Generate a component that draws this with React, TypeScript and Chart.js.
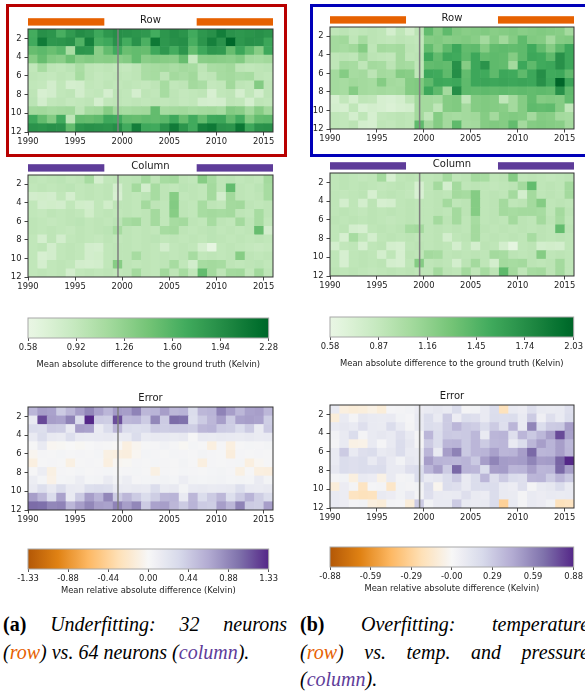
import React, { useEffect, useRef } from "react";
import { Chart, registerables } from "chart.js";

Chart.register(...registerables);

const FONT = '"DejaVu Sans", Verdana, sans-serif';
const ORANGE = "#e66101";
const PURPLE = "#5e3c99";

// ---------------- categories / ticks ----------------
const years = [1990, 1991, 1992, 1993, 1994, 1995, 1996, 1997, 1998, 1999, 2000, 2001, 2002,
  2003, 2004, 2005, 2006, 2007, 2008, 2009, 2010, 2011, 2012, 2013, 2014, 2015];
const yearExtent = [1990, 2016];
const monthExtent = [1, 12];
const yearTicks = [1990, 1995, 2000, 2005, 2010, 2015];
const monthTicks = [2, 4, 6, 8, 10, 12];
const splitYear = 1999.55;
const trainSpans = [[1990, 1998.1], [2007.9, 2016]];

const greenTicksA = [0.58, 0.92, 1.26, 1.60, 1.94, 2.28];
const greenLabelsA = ["0.58", "0.92", "1.26", "1.60", "1.94", "2.28"];
const greenTicksB = [0.58, 0.87, 1.16, 1.45, 1.74, 2.03];
const greenLabelsB = ["0.58", "0.87", "1.16", "1.45", "1.74", "2.03"];
const errTicksA = [-1.33, -0.887, -0.443, 0, 0.443, 0.887, 1.33];
const errLabelsA = ["-1.33", "-0.88", "-0.44", "0.00", "0.44", "0.88", "1.33"];
const errTicksB = [-0.88, -0.587, -0.293, 0, 0.293, 0.587, 0.88];
const errLabelsB = ["-0.88", "-0.59", "-0.29", "-0.00", "0.29", "0.59", "0.88"];

// ---------------- data: rows = months 1..12, columns = years ----------------
const rowUnderfit = [
  [1.68,1.92,1.88,1.66,1.84,1.95,1.90,1.72,1.86,1.93, 1.91,1.88,1.85,1.69,1.87,1.94,1.89,1.70,1.86,1.92,2.08,1.90,1.86,1.89,1.92,1.88],
  [1.70,2.10,1.86,1.88,1.92,1.62,2.06,1.66,1.72,1.90, 1.68,1.90,1.64,2.12,1.86,1.92,1.94,1.66,1.88,2.06,1.90,2.26,1.86,1.92,1.90,1.74],
  [1.50,1.55,1.48,1.56,1.10,1.88,1.86,1.30,1.52,1.70, 1.48,1.52,1.50,1.72,1.86,1.68,1.88,1.52,1.72,1.86,1.84,1.50,1.74,1.54,1.32,1.72],
  [1.32,1.50,1.34,1.30,1.46,1.30,1.34,1.30,1.32,1.30, 1.34,1.52,1.30,1.34,1.32,1.30,1.50,0.90,1.30,1.32,1.30,1.28,1.34,1.14,1.12,1.16],
  [0.94,1.12,0.96,0.94,0.98,1.10,0.96,0.94,0.96,0.94, 0.92,0.96,1.10,1.12,1.14,1.10,1.14,1.12,0.96,1.10,1.12,1.16,0.96,0.94,0.96,0.98],
  [0.96,0.94,0.92,0.96,0.94,1.12,0.96,0.92,0.94,0.96, 0.94,0.96,1.10,1.12,0.96,1.14,1.10,1.16,0.94,0.96,1.12,1.14,1.10,1.12,0.96,0.94],
  [0.94,0.92,0.80,0.94,0.78,0.80,0.94,0.92,0.96,0.94, 0.96,0.94,0.92,0.96,1.12,0.94,0.96,1.14,1.10,0.92,0.94,1.16,0.96,0.94,1.34,0.96],
  [0.96,0.76,0.80,0.94,0.96,0.80,0.92,0.94,0.78,0.96, 0.94,0.78,0.96,0.94,1.12,0.96,0.92,0.94,0.96,0.76,0.94,0.96,0.78,0.94,0.80,0.96],
  [0.98,0.80,0.94,0.96,0.92,0.94,0.96,0.78,0.94,0.96, 0.94,0.96,0.94,0.96,0.94,0.96,0.92,0.94,0.80,0.78,0.80,0.96,0.94,0.78,0.96,0.94],
  [1.14,1.16,1.12,1.14,1.16,0.96,1.12,1.14,1.32,1.14, 1.12,1.14,1.16,1.52,1.12,1.14,1.16,1.12,1.14,1.16,1.12,1.34,1.30,1.14,1.32,1.16],
  [1.72,1.52,1.34,1.70,0.96,1.52,1.50,1.54,1.72,1.70, 1.52,1.50,1.54,1.52,1.56,1.72,1.50,1.70,1.52,1.72,1.74,1.52,1.70,1.34,1.52,1.54],
  [1.90,1.88,1.92,1.90,1.52,1.88,1.92,1.90,1.88,1.94, 1.70,2.08,1.72,1.70,1.90,2.10,1.88,1.70,2.06,2.12,1.90,1.88,2.14,1.72,1.90,1.92],
];

const columnUnderfit = [
  [0.96,0.94,0.96,0.98,0.94,0.96,1.12,0.78,0.94,0.96, 0.96,0.98,1.14,0.96,1.12,1.14,0.96,0.94,1.32,1.12,0.96,0.98,0.94,0.96,0.94,1.14],
  [0.94,0.96,0.94,0.96,0.98,0.94,0.96,0.94,0.96,0.78, 0.96,1.14,0.80,1.12,0.96,0.94,0.98,0.96,0.94,1.14,0.96,1.52,0.96,0.94,0.98,1.12],
  [0.80,0.82,0.80,0.94,0.78,0.94,0.96,0.94,0.96,0.76, 0.96,0.94,0.98,1.12,0.96,1.32,0.94,0.96,0.94,1.14,0.80,1.16,0.96,0.94,0.96,1.12],
  [0.94,0.80,0.82,0.80,0.94,0.82,0.80,0.94,0.82,0.96, 0.96,0.94,1.14,0.96,0.94,1.34,0.96,0.94,1.12,0.96,0.94,1.14,1.16,0.96,0.94,0.96],
  [0.94,0.92,0.96,0.94,0.96,0.94,0.82,0.94,0.96,0.94, 0.96,0.94,0.96,1.14,0.94,1.32,0.96,0.94,1.12,1.14,1.12,1.14,0.96,0.94,1.12,0.96],
  [0.96,0.94,0.92,0.94,0.96,0.98,0.94,0.96,0.94,0.98, 1.12,1.16,0.96,1.14,0.94,1.12,1.14,0.96,0.94,1.12,0.96,0.94,1.14,0.96,1.12,0.94],
  [0.96,0.94,0.96,0.94,0.92,0.96,0.94,0.96,0.98,1.12, 0.96,0.94,0.96,0.94,1.12,1.14,0.96,0.94,0.96,0.98,0.94,0.96,0.94,0.96,1.50,0.80],
  [0.94,0.78,0.96,0.80,0.94,0.96,0.94,0.92,0.96,0.94, 0.96,0.94,0.96,0.98,0.94,0.96,0.94,0.96,0.94,0.98,0.96,0.94,0.96,0.94,0.96,0.94],
  [0.94,0.96,0.80,0.94,0.96,0.94,0.80,0.78,0.94,0.96, 0.96,0.94,0.96,0.94,0.80,0.94,0.96,0.94,0.78,0.62,0.94,0.96,0.94,0.92,0.90,0.92],
  [0.94,0.76,0.80,0.94,0.96,0.94,0.80,0.82,0.94,0.96, 0.96,1.12,0.96,0.94,0.96,0.94,0.96,1.12,0.94,0.96,0.94,0.96,1.32,0.96,0.94,0.96],
  [0.94,0.78,0.94,0.96,0.94,0.80,0.78,0.80,0.94,1.32, 0.96,0.94,0.96,0.94,0.96,1.12,0.94,0.80,1.12,1.14,1.12,0.96,0.94,0.96,0.98,0.94],
  [0.94,0.96,0.94,0.96,0.80,0.94,0.96,0.94,0.96,0.94, 0.96,1.14,0.96,0.94,1.16,0.96,1.12,0.94,1.52,1.14,0.96,1.14,1.16,0.94,1.16,0.96],
];

const errorUnderfit = [
  [0.59,0.74,0.72,0.44,0.58,0.74,0.88,0.72,0.59,0.76, 0.74,0.90,0.58,0.60,0.74,0.58,0.60,0.30,0.58,0.60,0.90,0.74,0.58,0.72,0.74,0.58],
  [0.15,1.18,0.74,0.72,0.90,0.30,1.33,0.44,0.42,1.16, 0.58,0.60,0.44,0.88,0.44,1.03,1.00,0.28,0.44,0.58,0.74,0.44,0.72,0.74,0.72,0.42],
  [0.30,0.28,0.44,0.42,0.15,0.74,0.72,0.14,0.30,0.58, 0.30,0.28,0.30,0.44,0.42,0.44,0.44,0.42,0.58,0.60,0.44,0.42,0.30,0.44,0.14,0.44],
  [0.15,0.30,0.16,0.14,0.28,0.15,0.14,0.15,0.16,0.14, 0.15,0.30,0.14,0.16,0.15,0.14,0.16,0.02,0.15,0.14,0.16,0.15,0.14,0.16,0.14,0.15],
  [0.02,0.15,-0.03,-0.02,0.00,-0.02,0.01,0.03,0.02,-0.01, -0.12,-0.04,0.02,0.03,0.06,0.03,-0.02,0.04,0.02,-0.12,0.03,-0.12,0.02,0.04,0.03,0.05],
  [-0.04,0.03,0.02,0.04,0.02,0.03,0.02,0.04,-0.10,-0.12, -0.13,-0.03,0.04,0.03,0.02,0.04,0.03,0.02,0.05,0.03,0.02,-0.14,0.03,0.02,0.03,0.02],
  [-0.12,0.02,0.03,0.02,-0.10,0.02,0.03,0.02,-0.12,-0.03, -0.02,0.03,0.02,0.04,0.03,0.02,0.05,0.02,-0.12,0.03,0.02,0.03,0.04,-0.12,-0.03,0.02],
  [0.02,0.12,-0.10,0.03,0.02,0.04,0.02,0.03,0.04,0.02, 0.03,0.04,0.02,-0.10,0.03,0.02,0.04,0.03,0.02,0.04,0.05,0.03,-0.10,0.02,-0.12,-0.13],
  [0.12,0.04,-0.08,0.04,0.05,0.12,0.04,0.05,0.14,0.06, 0.12,0.03,0.04,0.05,0.06,0.04,0.12,0.05,0.04,0.05,0.06,0.04,0.05,0.04,0.14,0.05],
  [0.15,0.28,0.16,0.30,0.15,0.14,0.28,0.30,0.28,0.15, 0.14,0.16,0.15,0.30,0.14,0.16,0.05,0.15,0.16,0.14,0.15,0.16,0.28,0.15,0.14,0.16],
  [0.74,0.58,0.30,0.72,0.15,0.44,0.74,0.60,0.88,0.44, 0.58,0.44,0.30,0.42,0.58,0.60,0.15,0.58,0.30,0.44,0.58,0.28,0.44,0.60,0.42,0.30],
  [1.03,1.01,0.88,0.90,0.58,0.74,0.88,0.74,0.72,0.90, 0.74,0.88,0.44,0.72,0.74,0.58,0.44,0.60,0.44,0.42,0.74,0.58,0.90,0.44,0.42,0.74],
];

const rowOverfit = [
  [0.90,0.92,0.88,0.90,0.92,0.90,0.76,0.90,0.78,0.92, 1.38,1.22,1.40,1.24,1.20,1.22,1.24,1.20,1.22,1.24,1.20,1.22,1.24,1.22,1.20,1.06],
  [1.06,1.08,0.90,1.04,0.92,0.90,0.88,0.92,0.90,0.88, 1.22,1.24,1.20,1.22,1.24,1.20,1.06,1.22,1.08,1.22,1.40,1.24,1.22,1.06,1.22,1.24],
  [1.06,1.04,1.08,1.22,0.90,1.06,1.04,1.06,0.92,0.90, 1.38,1.22,1.40,1.56,1.38,1.40,1.22,1.38,1.40,1.38,1.40,1.54,1.38,1.22,1.40,1.56],
  [0.90,0.92,0.90,1.06,0.92,0.90,0.88,1.06,0.90,0.92, 1.56,1.38,1.56,1.54,1.40,1.56,1.38,1.40,1.38,1.22,1.40,1.56,1.54,1.40,1.72,1.56],
  [0.90,1.06,1.04,0.90,1.06,1.04,0.92,1.06,1.04,0.90, 1.38,1.40,1.38,1.72,1.22,1.56,1.70,1.40,1.38,1.06,1.56,1.40,1.54,1.56,1.72,1.56],
  [1.06,1.22,1.04,1.06,0.92,1.06,1.04,1.22,1.20,0.90, 1.56,1.54,1.40,1.74,1.38,1.56,1.54,1.40,1.56,1.54,1.40,1.56,1.74,1.54,1.56,1.40],
  [1.06,1.04,1.08,1.06,1.04,1.22,1.06,1.04,1.22,1.24, 1.40,1.56,1.54,1.56,1.40,1.56,1.58,1.56,1.58,1.56,1.58,1.56,1.72,1.56,2.03,1.58],
  [1.06,1.04,1.22,1.06,1.04,1.06,1.04,1.06,1.22,1.24, 1.56,1.40,1.06,1.74,1.40,1.38,1.40,1.38,1.40,1.38,1.40,1.38,1.40,1.38,1.72,1.40],
  [0.74,0.88,0.76,0.90,0.88,0.74,0.72,0.76,0.90,1.06, 1.06,1.04,1.22,1.24,0.90,1.22,1.24,1.22,0.90,1.06,1.22,1.38,1.22,1.24,1.22,1.38],
  [0.76,0.74,0.90,0.72,0.76,0.74,0.70,0.74,0.76,1.06, 1.06,0.90,1.22,1.24,1.06,1.22,1.24,1.22,1.20,1.06,1.22,1.40,1.38,1.40,1.22,0.90],
  [0.90,0.88,0.76,0.90,0.74,0.88,0.90,0.92,0.90,1.06, 0.90,1.22,1.06,1.04,1.06,1.08,1.22,1.06,1.22,1.24,1.22,1.06,1.22,1.20,1.06,1.04],
  [0.90,0.88,0.92,0.76,0.74,0.90,0.88,0.92,0.90,1.40, 1.06,1.22,1.06,1.40,1.04,1.06,1.22,1.24,1.22,1.38,1.06,1.22,1.24,1.22,1.20,1.06],
];

const columnOverfit = [
  [0.90,0.92,0.90,0.88,0.90,1.06,0.74,0.90,0.92,0.90, 0.90,0.92,1.06,0.90,0.92,1.06,1.04,0.90,0.92,1.22,0.90,0.92,0.90,0.88,0.90,0.92],
  [0.90,0.92,0.90,0.92,0.90,0.88,0.90,0.92,0.90,0.74, 0.90,1.06,0.76,1.06,0.90,0.92,0.90,0.88,0.90,0.92,1.06,1.38,0.90,0.92,0.90,1.06],
  [0.90,0.88,0.90,0.92,0.74,0.90,0.92,0.90,0.88,0.72, 0.90,0.92,0.90,1.06,1.04,1.22,0.90,0.92,0.90,1.06,0.76,1.06,0.90,0.92,0.90,1.06],
  [0.90,0.76,0.90,0.76,0.92,0.74,0.76,0.90,0.92,0.90, 0.90,0.92,1.06,0.90,0.92,1.22,0.90,0.92,1.06,0.90,0.92,1.06,1.22,0.90,0.92,0.90],
  [0.90,0.92,0.90,0.88,0.92,0.90,0.92,0.90,0.92,0.90, 0.90,0.92,0.90,1.06,0.92,1.22,0.90,0.92,1.06,1.04,1.06,1.06,1.04,0.90,1.06,0.92],
  [0.92,0.90,0.92,0.90,0.92,0.90,0.88,0.90,0.92,0.90, 0.90,1.06,0.92,1.06,0.90,1.04,0.90,0.92,0.90,1.06,0.92,0.90,1.06,0.92,1.04,0.90],
  [0.90,0.92,0.76,0.74,0.90,0.92,0.90,0.92,1.04,1.06, 0.90,0.92,0.90,0.92,0.90,1.06,0.92,0.90,0.92,0.90,0.92,0.90,0.92,0.90,1.38,0.92],
  [0.90,0.74,1.04,0.90,0.76,0.90,0.92,0.90,0.92,0.90, 0.90,0.92,0.76,0.90,0.92,1.06,0.90,0.92,0.90,0.92,0.90,1.04,0.92,0.90,0.92,0.90],
  [0.76,0.88,0.90,0.74,0.90,0.92,0.76,0.74,0.90,0.92, 0.90,0.92,0.90,0.76,0.90,0.76,0.92,0.90,0.76,0.62,0.90,0.92,0.76,0.78,0.76,0.90],
  [0.90,0.74,0.90,0.92,0.90,0.76,0.90,0.74,0.92,0.90, 1.06,1.04,0.90,0.92,0.90,0.92,0.90,1.06,1.04,0.92,0.90,0.92,1.22,0.90,0.92,0.90],
  [0.90,0.74,0.90,0.92,0.90,0.92,0.76,0.74,0.90,1.22, 0.90,0.92,0.90,0.76,0.92,1.06,0.90,0.76,1.06,1.04,1.06,0.92,0.90,0.92,1.06,0.90],
  [0.92,0.90,0.92,0.90,0.88,0.90,0.92,0.90,0.92,0.90, 0.90,1.06,0.92,0.90,1.06,0.90,1.04,0.92,1.40,1.06,0.90,1.04,1.06,0.92,1.06,0.90],
];

const errorOverfit = [
  [0.10,-0.08,-0.10,-0.09,-0.06,-0.10,0.02,0.03,0.04,0.08, 0.10,0.12,0.10,0.20,0.03,0.04,0.10,0.19,-0.20,0.10,0.08,0.18,0.10,0.09,0.10,0.18],
  [-0.10,0.10,0.03,0.12,0.10,0.09,0.10,0.04,0.02,0.10, 0.20,0.10,0.29,0.08,0.20,0.18,0.10,0.20,0.19,0.20,0.10,0.29,0.06,0.18,0.10,0.20],
  [0.10,0.12,0.10,0.18,0.10,0.09,0.20,0.10,0.03,0.10, 0.20,0.18,0.29,0.39,0.30,0.28,0.20,0.29,0.18,0.39,0.10,0.59,0.20,0.29,0.30,0.49],
  [0.04,0.10,0.20,0.03,0.10,0.12,0.10,0.18,0.10,0.02, 0.39,0.20,0.30,0.29,0.30,0.38,0.10,0.39,0.40,0.18,0.39,0.30,0.38,0.49,0.78,0.48],
  [0.03,0.10,-0.06,-0.05,0.10,0.02,0.10,0.20,0.12,0.03, 0.29,0.20,0.39,0.40,0.30,0.39,0.29,0.38,0.39,0.10,0.20,0.39,0.49,0.40,0.49,0.38],
  [0.10,0.29,0.10,0.18,0.20,0.10,0.12,0.20,0.10,0.09, 0.39,0.10,0.49,0.60,0.30,0.39,0.40,0.48,0.39,0.40,0.49,0.69,0.39,0.40,0.49,0.39],
  [0.10,0.20,0.18,0.20,0.10,0.18,0.10,0.04,0.12,0.10, 0.49,0.40,0.39,0.38,0.40,0.30,0.49,0.59,0.50,0.49,0.50,0.59,0.49,0.50,0.70,0.88],
  [0.12,0.20,0.18,0.20,0.19,0.20,0.10,0.10,0.18,0.20, 0.39,0.49,0.29,0.69,0.40,0.39,0.20,0.49,0.50,0.39,0.40,0.49,0.39,0.40,0.69,0.49],
  [0.03,0.04,-0.08,0.10,0.08,-0.06,0.10,0.03,0.04,0.20, 0.10,0.12,0.20,0.29,0.10,0.20,0.39,0.18,0.29,0.20,0.18,0.39,0.40,0.29,0.39,0.30],
  [-0.10,0.08,0.03,-0.18,0.02,0.03,-0.16,0.04,0.03,0.04, 0.20,-0.03,0.20,0.18,0.10,0.20,0.19,0.20,0.10,0.08,0.18,0.03,0.10,0.12,0.20,0.10],
  [0.10,0.08,-0.18,-0.20,-0.19,0.10,0.08,0.04,0.10,0.03, 0.18,0.10,0.09,0.10,0.18,0.10,0.08,0.20,0.10,0.09,0.03,0.10,0.08,0.10,0.09,0.10],
  [0.10,0.08,0.03,0.04,-0.08,-0.10,0.03,0.02,-0.10,0.29, 0.04,0.10,0.10,0.29,0.10,0.09,0.10,0.20,-0.30,0.10,0.03,0.10,0.08,0.04,-0.20,-0.18],
];

// ---------------- colormaps ----------------
type Stop = [number, string];
const GREENS: Stop[] = [[0, "#f7fcf5"], [0.125, "#e5f5e0"], [0.25, "#c7e9c0"], [0.375, "#a1d99b"], [0.5, "#74c476"], [0.625, "#41ab5d"], [0.75, "#238b45"], [0.875, "#006d2c"], [1, "#00441b"]];
const PUOR: Stop[] = [[0, "#7f3b08"], [0.1, "#b35806"], [0.2, "#e08214"], [0.3, "#fdb863"], [0.4, "#fee0b6"], [0.5, "#f7f7f7"], [0.6, "#d8daeb"], [0.7, "#b2abd2"], [0.8, "#8073ac"], [0.9, "#542788"], [1, "#2d004b"]];

function hexRgb(h: string) {
  return [parseInt(h.slice(1, 3), 16), parseInt(h.slice(3, 5), 16), parseInt(h.slice(5, 7), 16)];
}
function makeCmap(stops: Stop[], lo = 0.1, hi = 0.9) {
  const s = stops.map(([t, c]) => [t, hexRgb(c)] as [number, number[]]);
  return (f: number) => {
    const t = lo + (hi - lo) * Math.min(1, Math.max(0, f));
    let k = 0;
    while (k < s.length - 2 && t > s[k + 1][0]) k++;
    const [t0, c0] = s[k];
    const [t1, c1] = s[k + 1];
    const u = (t - t0) / (t1 - t0);
    const c = c0.map((v, i) => Math.round(v + (c1[i] - v) * u));
    return `rgb(${c[0]},${c[1]},${c[2]})`;
  };
}
const greens = makeCmap(GREENS);
const puor = makeCmap(PUOR);

// ---------------- heatmap chart ----------------
type HeatSpec = {
  left: number; top: number; w: number; h: number;
  padTop: number; padRight: number; yw: number; xh: number;
  rows: number[][]; vmin: number; vmax: number; cmap: (f: number) => string;
  title: string; spanColor?: string;
};

function heatmapPlugin(spec: HeatSpec) {
  return {
    id: "heatCells",
    beforeDatasetsDraw(chart: any) {
      const { ctx, chartArea: a, scales } = chart;
      const x = scales.x, y = scales.y;
      const n = spec.rows.length;
      const [m0, m1] = monthExtent;
      ctx.save();
      ctx.beginPath();
      ctx.rect(a.left, a.top, a.right - a.left, a.bottom - a.top);
      ctx.clip();
      ctx.filter = "blur(0.45px)";
      spec.rows.forEach((row, i) => {
        const ya = y.getPixelForValue(m0 + ((m1 - m0) * i) / n);
        const yb = y.getPixelForValue(m0 + ((m1 - m0) * (i + 1)) / n);
        row.forEach((v, j) => {
          const xa = x.getPixelForValue(years[j]);
          const xb = x.getPixelForValue(years[j] + 1);
          ctx.fillStyle = spec.cmap((v - spec.vmin) / (spec.vmax - spec.vmin));
          const ex = j === row.length - 1 ? 2 : 0.6;
          const ey = i === n - 1 ? 2 : 0.6;
          ctx.fillRect(xa - (j === 0 ? 2 : 0), ya - (i === 0 ? 2 : 0), xb + ex - xa + (j === 0 ? 2 : 0), yb + ey - ya + (i === 0 ? 2 : 0));
        });
      });
      ctx.restore();
      ctx.save();
      const xs = x.getPixelForValue(splitYear);
      ctx.strokeStyle = "#7f7f7f";
      ctx.lineWidth = 1.5;
      ctx.beginPath();
      ctx.moveTo(xs, a.top);
      ctx.lineTo(xs, a.bottom);
      ctx.stroke();
      ctx.strokeStyle = "#333333";
      ctx.lineWidth = 1;
      ctx.strokeRect(a.left, a.top, a.right - a.left, a.bottom - a.top);
      ctx.fillStyle = "#1a1a1a";
      ctx.font = `10px ${FONT}`;
      ctx.textAlign = "center";
      ctx.textBaseline = "middle";
      ctx.fillText(spec.title, (a.left + a.right) / 2, a.top - 8.5);
      if (spec.spanColor) {
        trainSpans.forEach(([s0, s1]) => {
          const xa = x.getPixelForValue(s0), xb = x.getPixelForValue(s1);
          ctx.fillStyle = spec.spanColor;
          ctx.fillRect(xa, a.top - 10.8, xb - xa, 7.4);
        });
      }
      ctx.restore();
    },
  };
}

function makeHeatmap(canvas: HTMLCanvasElement, spec: HeatSpec) {
  const tickFont = { family: FONT, size: 8.4 };
  return new Chart(canvas, {
    type: "scatter",
    data: { datasets: [] },
    options: {
      animation: false,
      responsive: false,
      events: [],
      layout: { padding: { top: spec.padTop, right: spec.padRight, left: 0, bottom: 0 } },
      plugins: { legend: { display: false }, tooltip: { enabled: false } },
      scales: {
        x: {
          type: "linear", min: yearExtent[0], max: yearExtent[1],
          afterBuildTicks: (s: any) => { s.ticks = yearTicks.map((v) => ({ value: v })); },
          afterFit: (s: any) => { s.height = spec.xh; },
          grid: { drawOnChartArea: false, drawTicks: true, tickLength: 3.5, color: "#444" },
          border: { display: false },
          ticks: { font: tickFont, color: "#222", padding: 1, maxRotation: 0, autoSkip: false, callback: (v: any) => String(v) },
        },
        y: {
          type: "linear", min: monthExtent[0], max: monthExtent[1], reverse: true,
          afterBuildTicks: (s: any) => { s.ticks = monthTicks.map((v) => ({ value: v })); },
          afterFit: (s: any) => { s.width = spec.yw; },
          grid: { drawOnChartArea: false, drawTicks: true, tickLength: 3.5, color: "#444" },
          border: { display: false },
          ticks: { font: tickFont, color: "#222", padding: 3, autoSkip: false, callback: (v: any) => String(v) },
        },
      },
    } as any,
    plugins: [heatmapPlugin(spec)],
  });
}

// ---------------- colorbar chart ----------------
type BarSpec = {
  left: number; top: number; w: number; padTop: number; padLeft: number; padRight: number;
  vmin: number; vmax: number; cmap: (f: number) => string;
  ticks: number[]; labels: string[]; label: string; labelY: number;
};
const BAR_H = 20;
const BAR_AXIS_H = 40;

function colorbarPlugin(spec: BarSpec) {
  return {
    id: "cbarFill",
    beforeDatasetsDraw(chart: any) {
      const { ctx, chartArea: a, scales: { x } } = chart;
      const x0 = x.getPixelForValue(spec.vmin), x1 = x.getPixelForValue(spec.vmax);
      const g = ctx.createLinearGradient(x0, 0, x1, 0);
      for (let k = 0; k <= 40; k++) g.addColorStop(k / 40, spec.cmap(k / 40));
      ctx.save();
      ctx.fillStyle = g;
      ctx.fillRect(x0, a.top, x1 - x0, a.bottom - a.top);
      ctx.strokeStyle = "#a8a8a8";
      ctx.lineWidth = 1;
      ctx.strokeRect(x0, a.top, x1 - x0, a.bottom - a.top);
      ctx.restore();
    },
  };
}

function makeColorbar(canvas: HTMLCanvasElement, spec: BarSpec) {
  const font = { family: FONT, size: 8.4 };
  const lh = 8.4 * 1.2;
  const axisBottom = spec.top + spec.padTop + BAR_H + BAR_AXIS_H;
  const pb = axisBottom - lh / 2 - spec.labelY;
  return new Chart(canvas, {
    type: "scatter",
    data: { datasets: [] },
    options: {
      animation: false,
      responsive: false,
      events: [],
      layout: { padding: { top: spec.padTop, left: spec.padLeft, right: spec.padRight, bottom: 0 } },
      plugins: { legend: { display: false }, tooltip: { enabled: false } },
      scales: {
        x: {
          type: "linear", min: spec.vmin, max: spec.vmax,
          afterBuildTicks: (s: any) => { s.ticks = spec.ticks.map((v) => ({ value: v })); },
          afterFit: (s: any) => { s.height = BAR_AXIS_H; },
          grid: { drawOnChartArea: false, drawTicks: true, tickLength: 3, color: "#555" },
          border: { display: false },
          ticks: { font, color: "#222", padding: 2, maxRotation: 0, autoSkip: false, callback: (_v: any, i: number) => spec.labels[i] },
          title: { display: true, text: spec.label, font, color: "#222", padding: { top: 0, bottom: pb } },
        },
        y: { display: false, min: 0, max: 1 },
      },
    } as any,
    plugins: [colorbarPlugin(spec)],
  });
}

// ---------------- React ----------------
function ChartCanvas(props: { left: number; top: number; w: number; h: number; make: (c: HTMLCanvasElement) => Chart }) {
  const ref = useRef<HTMLCanvasElement>(null);
  useEffect(() => {
    const chart = props.make(ref.current as HTMLCanvasElement);
    return () => chart.destroy();
  }, []);
  return (
    <canvas ref={ref} width={props.w} height={props.h}
      style={{ position: "absolute", left: props.left, top: props.top, width: props.w, height: props.h }} />
  );
}

const heatSpecs: HeatSpec[] = [
  { left: 0, top: 5, w: 280, h: 143, padTop: 24, padRight: 7, yw: 28, xh: 16, rows: rowUnderfit, vmin: 0.58, vmax: 2.28, cmap: greens, title: "Row", spanColor: ORANGE },
  { left: 300, top: 3, w: 285, h: 142, padTop: 24, padRight: 11, yw: 30, xh: 16, rows: rowOverfit, vmin: 0.58, vmax: 2.03, cmap: greens, title: "Row", spanColor: ORANGE },
  { left: 0, top: 151, w: 280, h: 142, padTop: 24, padRight: 7, yw: 28, xh: 16, rows: columnUnderfit, vmin: 0.58, vmax: 2.28, cmap: greens, title: "Column", spanColor: PURPLE },
  { left: 300, top: 149, w: 285, h: 143, padTop: 24, padRight: 11, yw: 30, xh: 16, rows: columnOverfit, vmin: 0.58, vmax: 2.03, cmap: greens, title: "Column", spanColor: PURPLE },
  { left: 0, top: 383, w: 280, h: 143, padTop: 24, padRight: 7, yw: 28, xh: 16, rows: errorUnderfit, vmin: -1.33, vmax: 1.33, cmap: puor, title: "Error" },
  { left: 300, top: 381, w: 285, h: 143, padTop: 24, padRight: 11, yw: 30, xh: 16, rows: errorOverfit, vmin: -0.88, vmax: 0.88, cmap: puor, title: "Error" },
];

const LABEL_MAD = "Mean absolute difference to the ground truth (Kelvin)";
const LABEL_REL = "Mean relative absolute difference (Kelvin)";

const barSpecs: BarSpec[] = [
  { left: 0, top: 300, w: 280, padTop: 18, padLeft: 28, padRight: 7, vmin: 0.58, vmax: 2.28, cmap: greens, ticks: greenTicksA, labels: greenLabelsA, label: LABEL_MAD, labelY: 365 },
  { left: 300, top: 300, w: 285, padTop: 17, padLeft: 30, padRight: 10, vmin: 0.58, vmax: 2.03, cmap: greens, ticks: greenTicksB, labels: greenLabelsB, label: LABEL_MAD, labelY: 363.5 },
  { left: 0, top: 530, w: 280, padTop: 19, padLeft: 28, padRight: 7, vmin: -1.33, vmax: 1.33, cmap: puor, ticks: errTicksA, labels: errLabelsA, label: LABEL_REL, labelY: 591 },
  { left: 300, top: 530, w: 285, padTop: 17, padLeft: 30, padRight: 10, vmin: -0.88, vmax: 0.88, cmap: puor, ticks: errTicksB, labels: errLabelsB, label: LABEL_REL, labelY: 589 },
];

const capFont: React.CSSProperties = {
  position: "absolute",
  fontFamily: '"Liberation Serif", "Times New Roman", serif',
  fontSize: 20,
  lineHeight: "27.5px",
  color: "#000",
  whiteSpace: "nowrap",
};
const justify: React.CSSProperties = { textAlign: "justify", textAlignLast: "justify" as any };

export default function App() {
  return (
    <div style={{ position: "absolute", left: 0, top: 0, width: 585, height: 691, overflow: "hidden", background: "#fff" }}>
      {heatSpecs.map((s, i) => (
        <ChartCanvas key={"h" + i} left={s.left} top={s.top} w={s.w} h={s.h} make={(c) => makeHeatmap(c, s)} />
      ))}
      {barSpecs.map((s, i) => (
        <ChartCanvas key={"b" + i} left={s.left} top={s.top} w={s.w} h={s.padTop + BAR_H + BAR_AXIS_H} make={(c) => makeColorbar(c, s)} />
      ))}
      <div style={{ position: "absolute", left: 6, top: 4, width: 281, height: 153, border: "3px solid #b80000", boxSizing: "border-box", pointerEvents: "none" }} />
      <div style={{ position: "absolute", left: 310, top: 4, width: 290, height: 153, border: "3px solid #0000b8", boxSizing: "border-box", pointerEvents: "none" }} />
      <div style={{ ...capFont, left: 3, top: 611, width: 284 }}>
        <div style={justify}><b>(a)</b> <i>Underfitting: 32 neurons</i></div>
        <div><i>(<span style={{ color: ORANGE }}>row</span>) vs. 64 neurons (<span style={{ color: PURPLE }}>column</span>).</i></div>
      </div>
      <div style={{ ...capFont, left: 300, top: 611, width: 289 }}>
        <div style={justify}><b>(b)</b> <i>Overfitting: temperature</i></div>
        <div style={justify}><i>(<span style={{ color: ORANGE }}>row</span>) vs. temp. and pressure</i></div>
        <div><i>(<span style={{ color: PURPLE }}>column</span>).</i></div>
      </div>
    </div>
  );
}
